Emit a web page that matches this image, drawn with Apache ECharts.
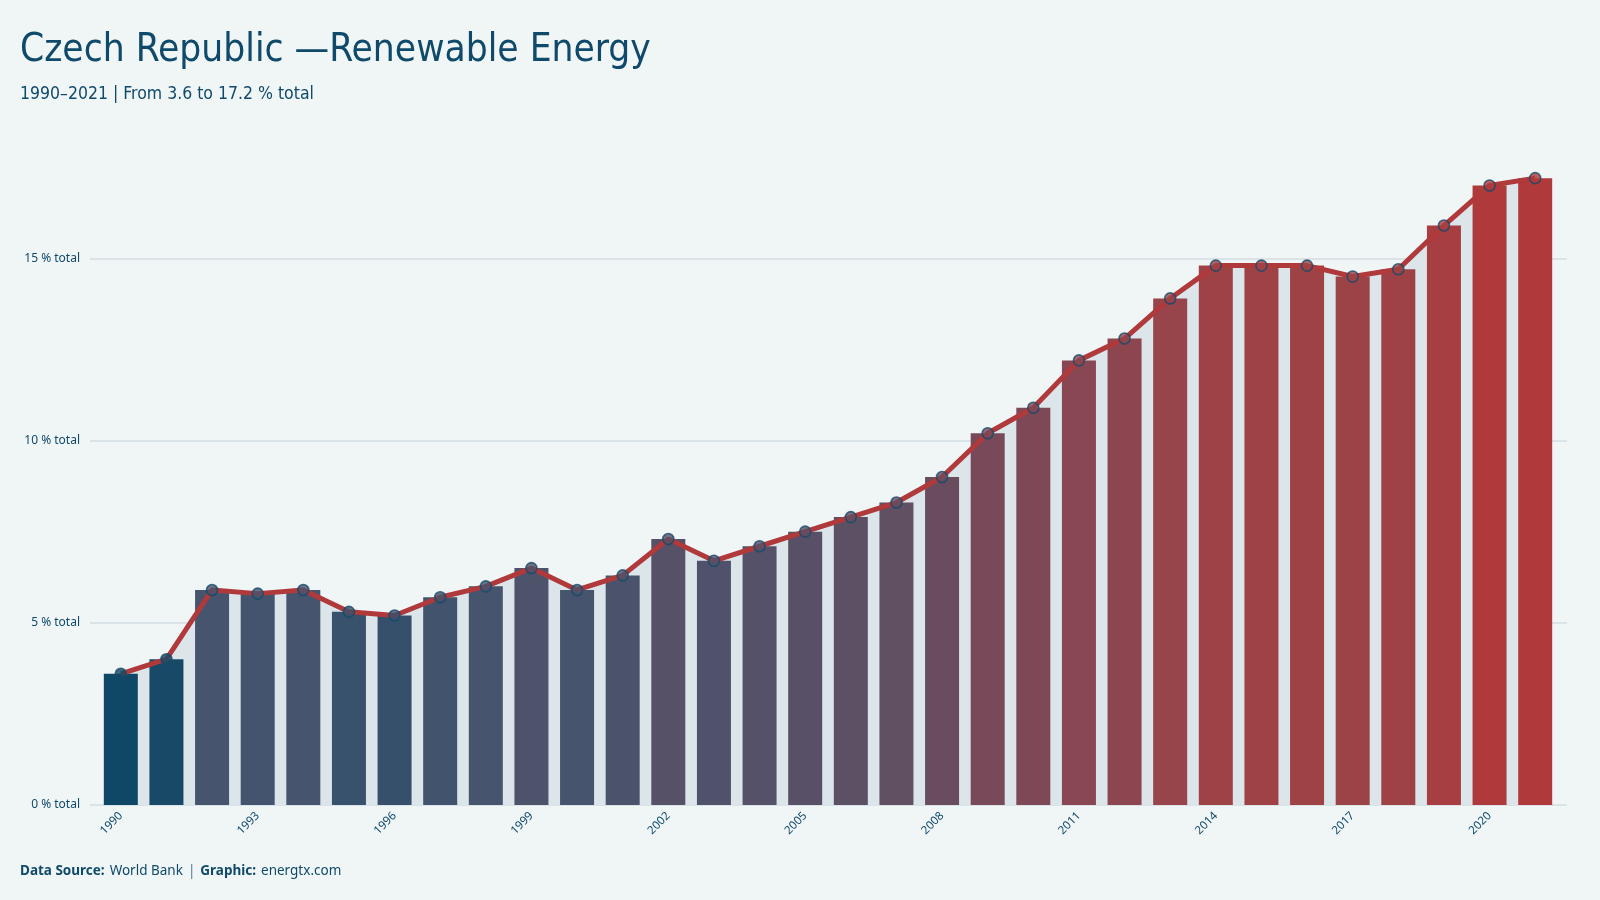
<!DOCTYPE html>
<html>
<head>
<meta charset="utf-8">
<script src="https://cdn.jsdelivr.net/npm/echarts@6/dist/echarts.min.js"></script>
<style>
html,body{margin:0;padding:0;background:#f0f5f5;}
#chart{width:1600px;height:900px;}
</style>
</head>
<body>
<div id="chart"></div>
<script>
const years = ['1990','1991','1992','1993','1994','1995','1996','1997','1998','1999','2000','2001','2002','2003','2004','2005','2006','2007','2008','2009','2010','2011','2012','2013','2014','2015','2016','2017','2018','2019','2020','2021'];
const values = [3.6,4.0,5.9,5.8,5.9,5.3,5.2,5.7,6.0,6.5,5.9,6.3,7.3,6.7,7.1,7.5,7.9,8.3,9.0,10.2,10.9,12.2,12.8,13.9,14.8,14.8,14.8,14.5,14.7,15.9,17.0,17.2];
const yTicks = [0,5,10,15];
const titleText = 'Czech Republic \u2014Renewable Energy';
const subtitleText = '1990\u20132021 | From 3.6 to 17.2 % total';

const textColor = '#0f4a6b';
const condensed = "'Liberation Sans Narrow','DejaVu Sans Condensed',sans-serif";
const chart = echarts.init(document.getElementById('chart'), null, {renderer:'canvas'});
const yMax = 18;

const option = {
  backgroundColor: '#f0f5f5',
  animation: false,
  title: [
    {text: titleText, left: 20, top: 31, padding: 0,
     textStyle:{fontFamily:condensed, fontWeight:'normal', fontSize:38.5, color:textColor}},
    {text: subtitleText, left: 20, top: 85, padding: 0,
     textStyle:{fontFamily:condensed, fontWeight:'normal', fontSize:17.5, color:textColor}},
    {text: '{b|Data Source:} {r|World Bank} {p||} {b|Graphic:} {r|energtx.com}', left: 20, top: 862, padding: 0,
     textStyle:{fontWeight:'normal', rich:{
       b:{fontFamily:'Noto Sans', fontWeight:'bold', fontSize:13.5, color:textColor},
       r:{fontFamily:'Noto Sans', fontWeight:'normal', fontSize:13.5, color:textColor},
       p:{fontFamily:'Noto Sans', fontWeight:'normal', fontSize:13.5, color:'#5a7a8e'}
     }}}
  ],
  grid: [
    {left: 98, right: 42, top: 149, bottom: 95},
    {left: 90, right: 33, top: 149, bottom: 95}
  ],
  xAxis: [
    {type:'category', data: years, gridIndex:0,
     axisLine:{show:false}, axisTick:{show:false},
     axisLabel:{interval:2, rotate:45, margin:9, fontFamily:'Noto Sans', fontSize:11.5, color:textColor}},
    {type:'value', gridIndex:1, min:0, max:1, show:false}
  ],
  yAxis: [
    {type:'value', gridIndex:0, min:0, max:yMax, interval:5, show:false, splitLine:{show:false}},
    {type:'value', gridIndex:1, min:0, max:yMax, interval:5,
     axisLine:{show:false}, axisTick:{show:false},
     axisLabel:{showMaxLabel:false, margin:10, fontFamily:'Noto Sans', fontSize:12, color:textColor,
       formatter: v => yTicks.indexOf(v) >= 0 ? v + ' % total' : ''},
     splitLine:{show:true, showMaxLine:false, lineStyle:{color:'#d3dde2', width:1.5}}}
  ],
  visualMap: {
    type:'continuous', show:false, seriesIndex:[1,3], dimension:1,
    min:3.6, max:17.2,
    inRange:{color:['#0e4866','#46546e','#5f4f63','#7a4958','#8c4650','#a04245','#b0393b']}
  },
  series: [
    {type:'line', name:'area', xAxisIndex:0, yAxisIndex:0, data: values, z:1,
     symbol:'none', lineStyle:{width:0}, areaStyle:{color:'#dbe5ea', opacity:1}, silent:true},
    {type:'bar', name:'bars', xAxisIndex:0, yAxisIndex:0, data: values, z:2, barWidth:34},
    {type:'line', name:'line', xAxisIndex:0, yAxisIndex:0, data: values, z:3,
     symbol:'none', lineStyle:{width:5, color:'#b0393b'}},
    {type:'scatter', name:'pts', xAxisIndex:0, yAxisIndex:0, data: values, z:4,
     symbol:'circle', symbolSize:11, itemStyle:{borderColor:'#164a6a', borderWidth:1.6}}
  ]
};
chart.setOption(option);
</script>
</body>
</html>
